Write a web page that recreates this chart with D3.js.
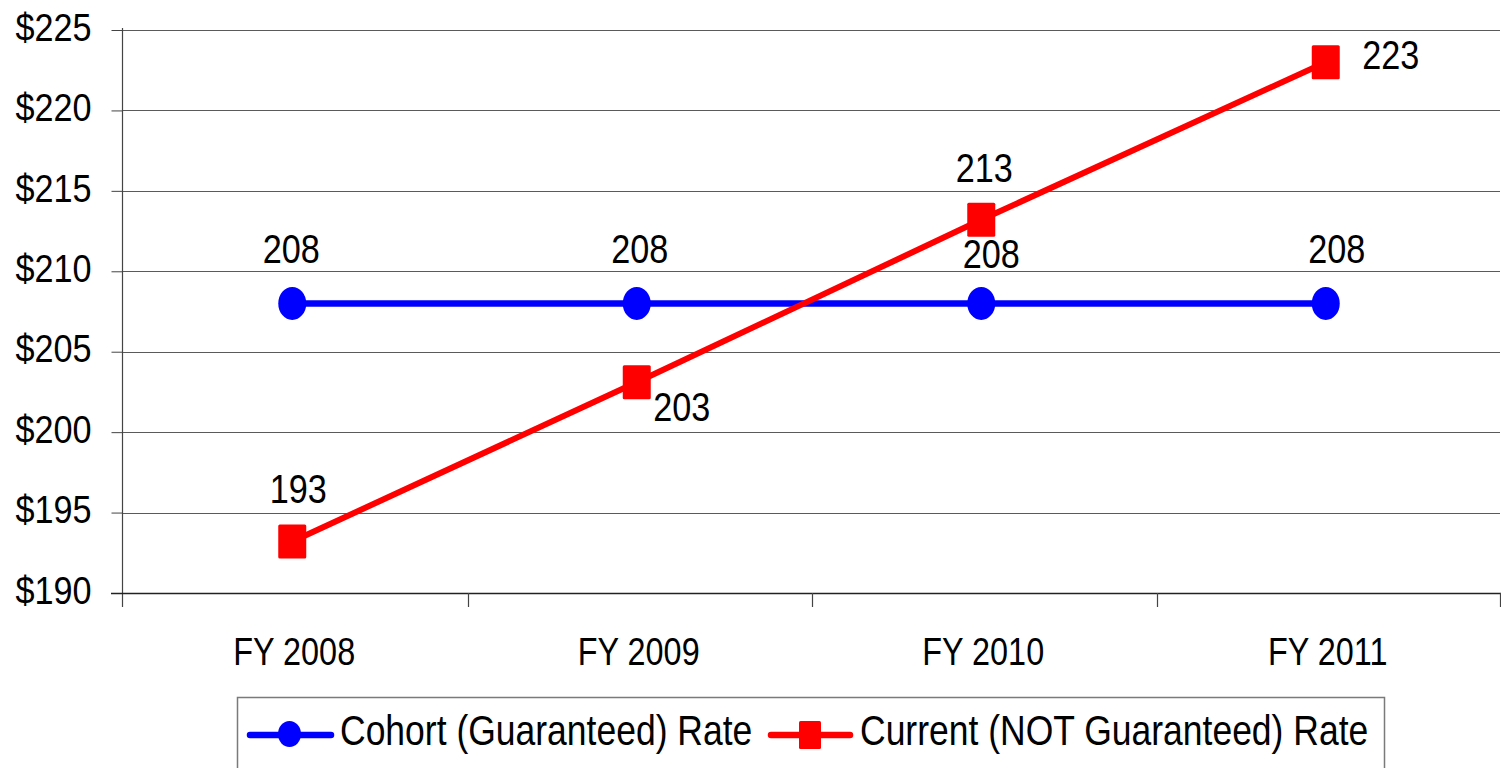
<!DOCTYPE html>
<html lang="en">
  <head>
    <title>Cohort vs current rate</title>
    <script type="text/javascript" src="https://d3js.org/d3.v7.min.js"></script>
    <style>
      body { margin: 0; background: #fff; }
      text { font-family: "Liberation Sans", Arial, sans-serif; fill: #000; }
    </style>
  </head>

  <body>
    <div id="my_dataviz"></div>

    <script>
      // data
      const categories = ["FY 2008", "FY 2009", "FY 2010", "FY 2011"];
      const cohortRate = [208, 208, 208, 208];
      const currentRate = [193.2, 203.1, 213.2, 223.0];
      const yTicks = [190, 195, 200, 205, 210, 215, 220, 225];
      const seriesNames = ["Cohort (Guaranteed) Rate", "Current (NOT Guaranteed) Rate"];

      // label nudges (layout only), [dx, dy] from the marker
      const cohortLabelShift = [[-1, -40], [3, -40], [10, -35], [11, -40]];
      const currentLabelShift = [[6, -39], [45, 39], [3, -38], [65, 7]];

      const width = 1501, height = 768;
      const blue = "#0000ff", red = "#ff0000";

      let svg = d3.select("#my_dataviz")
        .append("svg")
          .attr("width", width)
          .attr("height", height);

      // text in the original is a bit narrower than Liberation Sans
      function squeeze(sel, k) {
        sel.each(function() {
          let len = this.getComputedTextLength();
          d3.select(this)
            .attr("textLength", len * k)
            .attr("lengthAdjust", "spacingAndGlyphs");
        });
      }

      let x = d3.scaleBand()
        .domain(categories)
        .range([123, 1501])
        .padding(0);

      let y = d3.scaleLinear()
        .domain([190, 225])
        .range([593, 30]);

      // marker centre sits a little left of the band centre in the original
      const cx = c => x(c) + x.bandwidth() / 2 - 3;

      // grid lines
      svg.append("g")
        .selectAll("line")
        .data(yTicks.filter(d => d !== 190))
        .enter().append("line")
          .attr("x1", 122).attr("x2", 1500)
          .attr("y1", d => Math.round(y(d)) + 0.5)
          .attr("y2", d => Math.round(y(d)) + 0.5)
          .attr("stroke", "#5a5a5a")
          .attr("stroke-width", 1);

      // y axis
      let yAxis = svg.append("g")
        .attr("transform", "translate(122.5,0)")
        .call(d3.axisLeft(y)
          .tickValues(yTicks)
          .tickSize(11)
          .tickPadding(20)
          .tickFormat(d => "$" + d));
      yAxis.select(".domain").remove();
      yAxis.selectAll(".tick line").attr("stroke", "#444");
      yAxis.selectAll(".tick text")
        .attr("font-family", "Liberation Sans, Arial, sans-serif")
        .attr("font-size", 38)
        .attr("dy", "0.27em")
        .attr("fill", "#000")
        .call(squeeze, 0.9);

      svg.append("line")
        .attr("x1", 122.5).attr("x2", 122.5)
        .attr("y1", 28).attr("y2", 607)
        .attr("stroke", "#444").attr("stroke-width", 1.2);

      // x axis: line, ticks at band edges, labels at centres
      svg.append("line")
        .attr("x1", 111).attr("x2", 1501)
        .attr("y1", 593.5).attr("y2", 593.5)
        .attr("stroke", "#222").attr("stroke-width", 1.3);

      let edges = categories.map(c => x(c)).slice(1).concat([x.range()[1] - 1]);
      svg.append("g")
        .selectAll("line")
        .data(edges)
        .enter().append("line")
          .attr("x1", d => Math.round(d) + 0.5)
          .attr("x2", d => Math.round(d) + 0.5)
          .attr("y1", 593).attr("y2", 607)
          .attr("stroke", "#444").attr("stroke-width", 1.2);

      svg.append("g")
        .selectAll("text")
        .data(categories)
        .enter().append("text")
          .attr("x", d => x(d) + x.bandwidth() / 2 - 1)
          .attr("y", 665)
          .attr("text-anchor", "middle")
          .attr("font-size", 39)
          .text(d => d)
          .call(squeeze, 0.83);

      // lines
      let line = d3.line()
        .x((d, i) => cx(categories[i]))
        .y(d => y(d));

      svg.append("path")
        .datum(cohortRate)
        .attr("fill", "none")
        .attr("stroke", blue)
        .attr("stroke-width", 6.5)
        .attr("d", line);

      svg.append("path")
        .datum(currentRate)
        .attr("fill", "none")
        .attr("stroke", red)
        .attr("stroke-width", 6)
        .attr("d", line);

      // markers
      svg.append("g")
        .selectAll("ellipse")
        .data(cohortRate)
        .enter().append("ellipse")
          .attr("cx", (d, i) => cx(categories[i]))
          .attr("cy", d => y(d))
          .attr("rx", 14)
          .attr("ry", 16.5)
          .attr("fill", blue);

      svg.append("g")
        .selectAll("rect")
        .data(currentRate)
        .enter().append("rect")
          .attr("x", (d, i) => cx(categories[i]) - 14)
          .attr("y", d => y(d) - 17)
          .attr("width", 28)
          .attr("height", 34)
          .attr("rx", 1.5)
          .attr("fill", red);

      // data labels
      svg.append("g")
        .selectAll("text")
        .data(cohortRate)
        .enter().append("text")
          .attr("x", (d, i) => cx(categories[i]) + cohortLabelShift[i][0])
          .attr("y", (d, i) => y(d) + cohortLabelShift[i][1])
          .attr("text-anchor", "middle")
          .attr("font-size", 40)
          .text(d => Math.round(d))
          .call(squeeze, 0.855);

      svg.append("g")
        .selectAll("text")
        .data(currentRate)
        .enter().append("text")
          .attr("x", (d, i) => cx(categories[i]) + currentLabelShift[i][0])
          .attr("y", (d, i) => y(d) + currentLabelShift[i][1])
          .attr("text-anchor", "middle")
          .attr("font-size", 40)
          .text(d => Math.round(d))
          .call(squeeze, 0.855);

      // legend
      let legend = svg.append("g");
      legend.append("rect")
        .attr("x", 237.5).attr("y", 697.5)
        .attr("width", 1147).attr("height", 90)
        .attr("fill", "#fff")
        .attr("stroke", "#7a7a7a")
        .attr("stroke-width", 1.5);

      // cohort entry
      legend.append("line")
        .attr("x1", 250).attr("x2", 331)
        .attr("y1", 735).attr("y2", 735)
        .attr("stroke", blue).attr("stroke-width", 6.5)
        .attr("stroke-linecap", "round");
      legend.append("ellipse")
        .attr("cx", 289.5).attr("cy", 734)
        .attr("rx", 11.5).attr("ry", 13)
        .attr("fill", blue);
      legend.append("text")
        .attr("x", 340).attr("y", 745)
        .attr("font-size", 42)
        .text(seriesNames[0])
        .call(squeeze, 0.845);

      // current entry
      legend.append("line")
        .attr("x1", 771).attr("x2", 850)
        .attr("y1", 735).attr("y2", 735)
        .attr("stroke", red).attr("stroke-width", 6.5)
        .attr("stroke-linecap", "round");
      legend.append("rect")
        .attr("x", 799).attr("y", 721)
        .attr("width", 22).attr("height", 28)
        .attr("rx", 1.5)
        .attr("fill", red);
      legend.append("text")
        .attr("x", 860).attr("y", 745)
        .attr("font-size", 42)
        .text(seriesNames[1])
        .call(squeeze, 0.845);
    </script>

  </body>
</html>
